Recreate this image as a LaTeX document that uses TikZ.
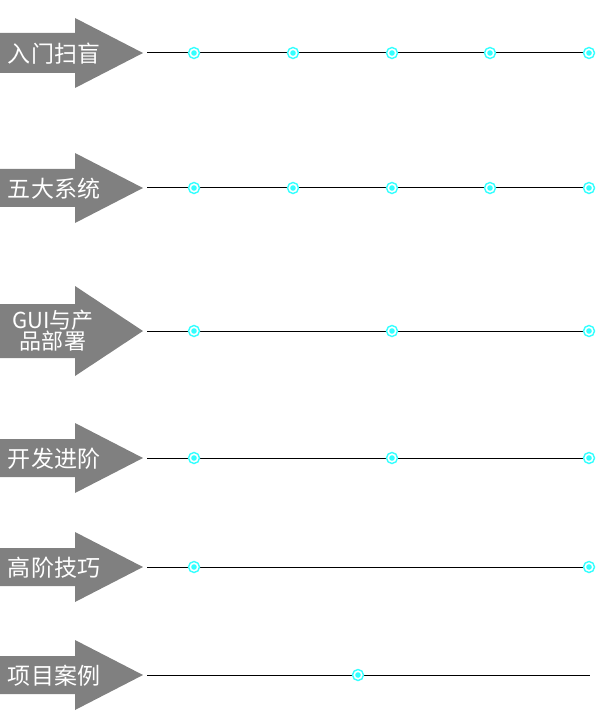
\documentclass[tikz,border=0pt]{standalone}
\usepackage{fontspec}
\newfontfamily\cjk{Noto Sans CJK SC}
\definecolor{arrowgray}{HTML}{808080}
\definecolor{dotcyan}{HTML}{33FFFF}
\tikzset{
  lbl/.style={text=white, font=\cjk\fontsize{23}{23}\selectfont, inner sep=0pt, align=center},
  lbltwo/.style={text=white, font=\cjk\fontsize{22}{21}\selectfont, inner sep=0pt, align=center},
  tline/.style={draw=black, line width=1pt},
  ring/.style={circle, draw=dotcyan, line width=1.4pt, fill=white, minimum size=11pt, inner sep=0pt,
    path picture={\fill[dotcyan] (path picture bounding box.center) circle (2.8pt);}},
}
% #1 y, #2 body half, #3 head half
\newcommand\myarrow[3]{%
  \fill[arrowgray] (0,#1-#2) -- (75,#1-#2) -- (75,#1-#3) -- (143,#1) -- (75,#1+#3) -- (75,#1+#2) -- (0,#1+#2) -- cycle;}
\begin{document}
\begin{tikzpicture}[x=1pt,y=-1pt]
\useasboundingbox (0,0) rectangle (608,711);
% row 1
\myarrow{53}{20}{35}
\node[lbl] (t1) at (54,54) {入门扫盲};
\coordinate (s1) at (147,53); \coordinate (e1) at (590,53);
\draw[tline] (s1) -- (e1);
\foreach \x [count=\i] in {194,293,392,490,589} \node[ring] (r1\i) at (\x,53) {};
% row 2
\myarrow{188}{19}{35}
\node[lbl] (t2) at (54,189) {五大系统};
\coordinate (s2) at (147,188); \coordinate (e2) at (590,188);
\draw[tline] (s2) -- (e2);
\foreach \x [count=\i] in {194,293,392,490,589} \node[ring] (r2\i) at (\x,188) {};
% row 3
\myarrow{331}{27}{45}
\node[lbltwo] (t3) at (53,331) {GUI与产\\品部署};
\coordinate (s3) at (147,331); \coordinate (e3) at (590,331);
\draw[tline] (s3) -- (e3);
\foreach \x [count=\i] in {194,392,589} \node[ring] (r3\i) at (\x,331) {};
% row 4
\myarrow{458}{19}{35}
\node[lbl] (t4) at (54,459) {开发进阶};
\coordinate (s4) at (147,458); \coordinate (e4) at (590,458);
\draw[tline] (s4) -- (e4);
\foreach \x [count=\i] in {194,392,589} \node[ring] (r4\i) at (\x,458) {};
% row 5
\myarrow{567}{19}{35}
\node[lbl] (t5) at (54,568) {高阶技巧};
\coordinate (s5) at (147,567); \coordinate (e5) at (590,567);
\draw[tline] (s5) -- (e5);
\foreach \x [count=\i] in {194,589} \node[ring] (r5\i) at (\x,567) {};
% row 6
\myarrow{675}{19}{35}
\node[lbl] (t6) at (54,676) {项目案例};
\coordinate (s6) at (147,675); \coordinate (e6) at (590,675);
\draw[tline] (s6) -- (e6);
\node[ring] (r61) at (358,675) {};
\end{tikzpicture}
\end{document}
